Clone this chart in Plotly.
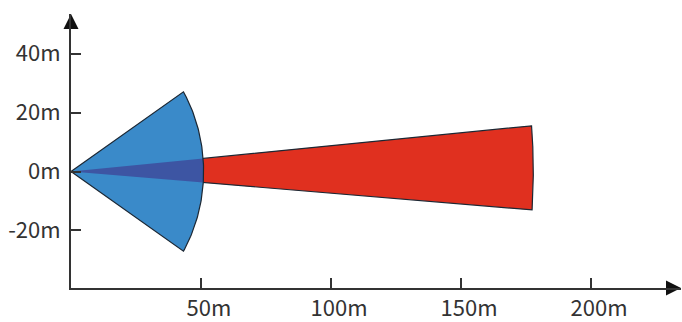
import numpy as np
import plotly.graph_objects as go

# ---- data ----
sensor_names = ["Short-range radar", "Long-range radar"]
sensor_range_m = [51.0, 177.8]
sensor_start_deg = [-32.0, -4.2]
sensor_end_deg = [32.0, 5.0]
sensor_colors = ["#3a8ac9", "#e0301f"]
overlap_color = "#3d55a3"

x_tick_vals = [50, 100, 150, 200]
x_tick_text = ["50m", "100m", "150m", "200m"]
y_tick_vals = [-20, 0, 20, 40]
y_tick_text = ["-20m", "0m", "20m", "40m"]

x_range = [0, 234.6]
y_range = [-39.5, 53.4]

AXIS_COLOR = "#333333"
OUTLINE = "#1c2733"
FONT = "Noto Sans CJK SC, Noto Sans, sans-serif"


def sector(r, a0, a1, n=80):
    t = np.radians(np.linspace(a0, a1, n))
    xs = np.concatenate([[0.0], r * np.cos(t), [0.0]])
    ys = np.concatenate([[0.0], r * np.sin(t), [0.0]])
    return xs, ys


fig = go.Figure()

# long range (red) sector
xr, yr = sector(sensor_range_m[1], sensor_start_deg[1], sensor_end_deg[1])
fig.add_trace(go.Scatter(x=xr, y=yr, mode="lines", fill="toself",
                         fillcolor=sensor_colors[1],
                         line=dict(color=OUTLINE, width=1.2),
                         name=sensor_names[1], hoverinfo="skip"))

# short range (blue) sector fill
xb, yb = sector(sensor_range_m[0], sensor_start_deg[0], sensor_end_deg[0])
fig.add_trace(go.Scatter(x=xb, y=yb, mode="lines", fill="toself",
                         fillcolor=sensor_colors[0],
                         line=dict(color="rgba(0,0,0,0)", width=0),
                         name=sensor_names[0], hoverinfo="skip"))

# overlap: long-range beam within short-range radius
xo, yo = sector(sensor_range_m[0], sensor_start_deg[1], sensor_end_deg[1])
fig.add_trace(go.Scatter(x=xo, y=yo, mode="lines", fill="toself",
                         fillcolor=overlap_color,
                         line=dict(color="rgba(0,0,0,0)", width=0),
                         hoverinfo="skip"))

# blue outline on top
fig.add_trace(go.Scatter(x=xb, y=yb, mode="lines",
                         line=dict(color=OUTLINE, width=1.2),
                         hoverinfo="skip"))

# axis arrowheads
fig.add_trace(go.Scatter(x=[0], y=[y_range[1]], mode="markers", cliponaxis=False,
                         marker=dict(symbol="arrow-up", size=15, color="#111111",
                                     line=dict(width=0)), hoverinfo="skip"))
fig.add_trace(go.Scatter(x=[x_range[1]], y=[y_range[0]], mode="markers", cliponaxis=False,
                         marker=dict(symbol="arrow-right", size=15, color="#111111",
                                     line=dict(width=0)), hoverinfo="skip"))

fig.update_layout(
    template="none",
    width=682, height=322,
    margin=dict(l=71, r=1, t=14, b=34, autoexpand=False),
    paper_bgcolor="white", plot_bgcolor="white",
    showlegend=False,
    font=dict(family=FONT, size=22, color=AXIS_COLOR),
)
fig.update_xaxes(range=x_range, showgrid=False, zeroline=False, automargin=False,
                 showline=True, linecolor=AXIS_COLOR, linewidth=2,
                 ticks="inside", ticklen=10, tickwidth=1.5, tickcolor=AXIS_COLOR,
                 tickvals=x_tick_vals, ticktext=x_tick_text,
                 ticklabelshift=8, ticklabelstandoff=0)
fig.update_yaxes(range=y_range, showgrid=False, zeroline=False, automargin=False,
                 showline=True, linecolor=AXIS_COLOR, linewidth=2,
                 ticks="inside", ticklen=10, tickwidth=1.5, tickcolor=AXIS_COLOR,
                 tickvals=y_tick_vals, ticktext=y_tick_text,
                 ticklabelstandoff=4)

fig.write_html("out.html", config={"displayModeBar": False},
               post_script="document.body.style.margin='0';document.body.style.overflow='hidden';")
